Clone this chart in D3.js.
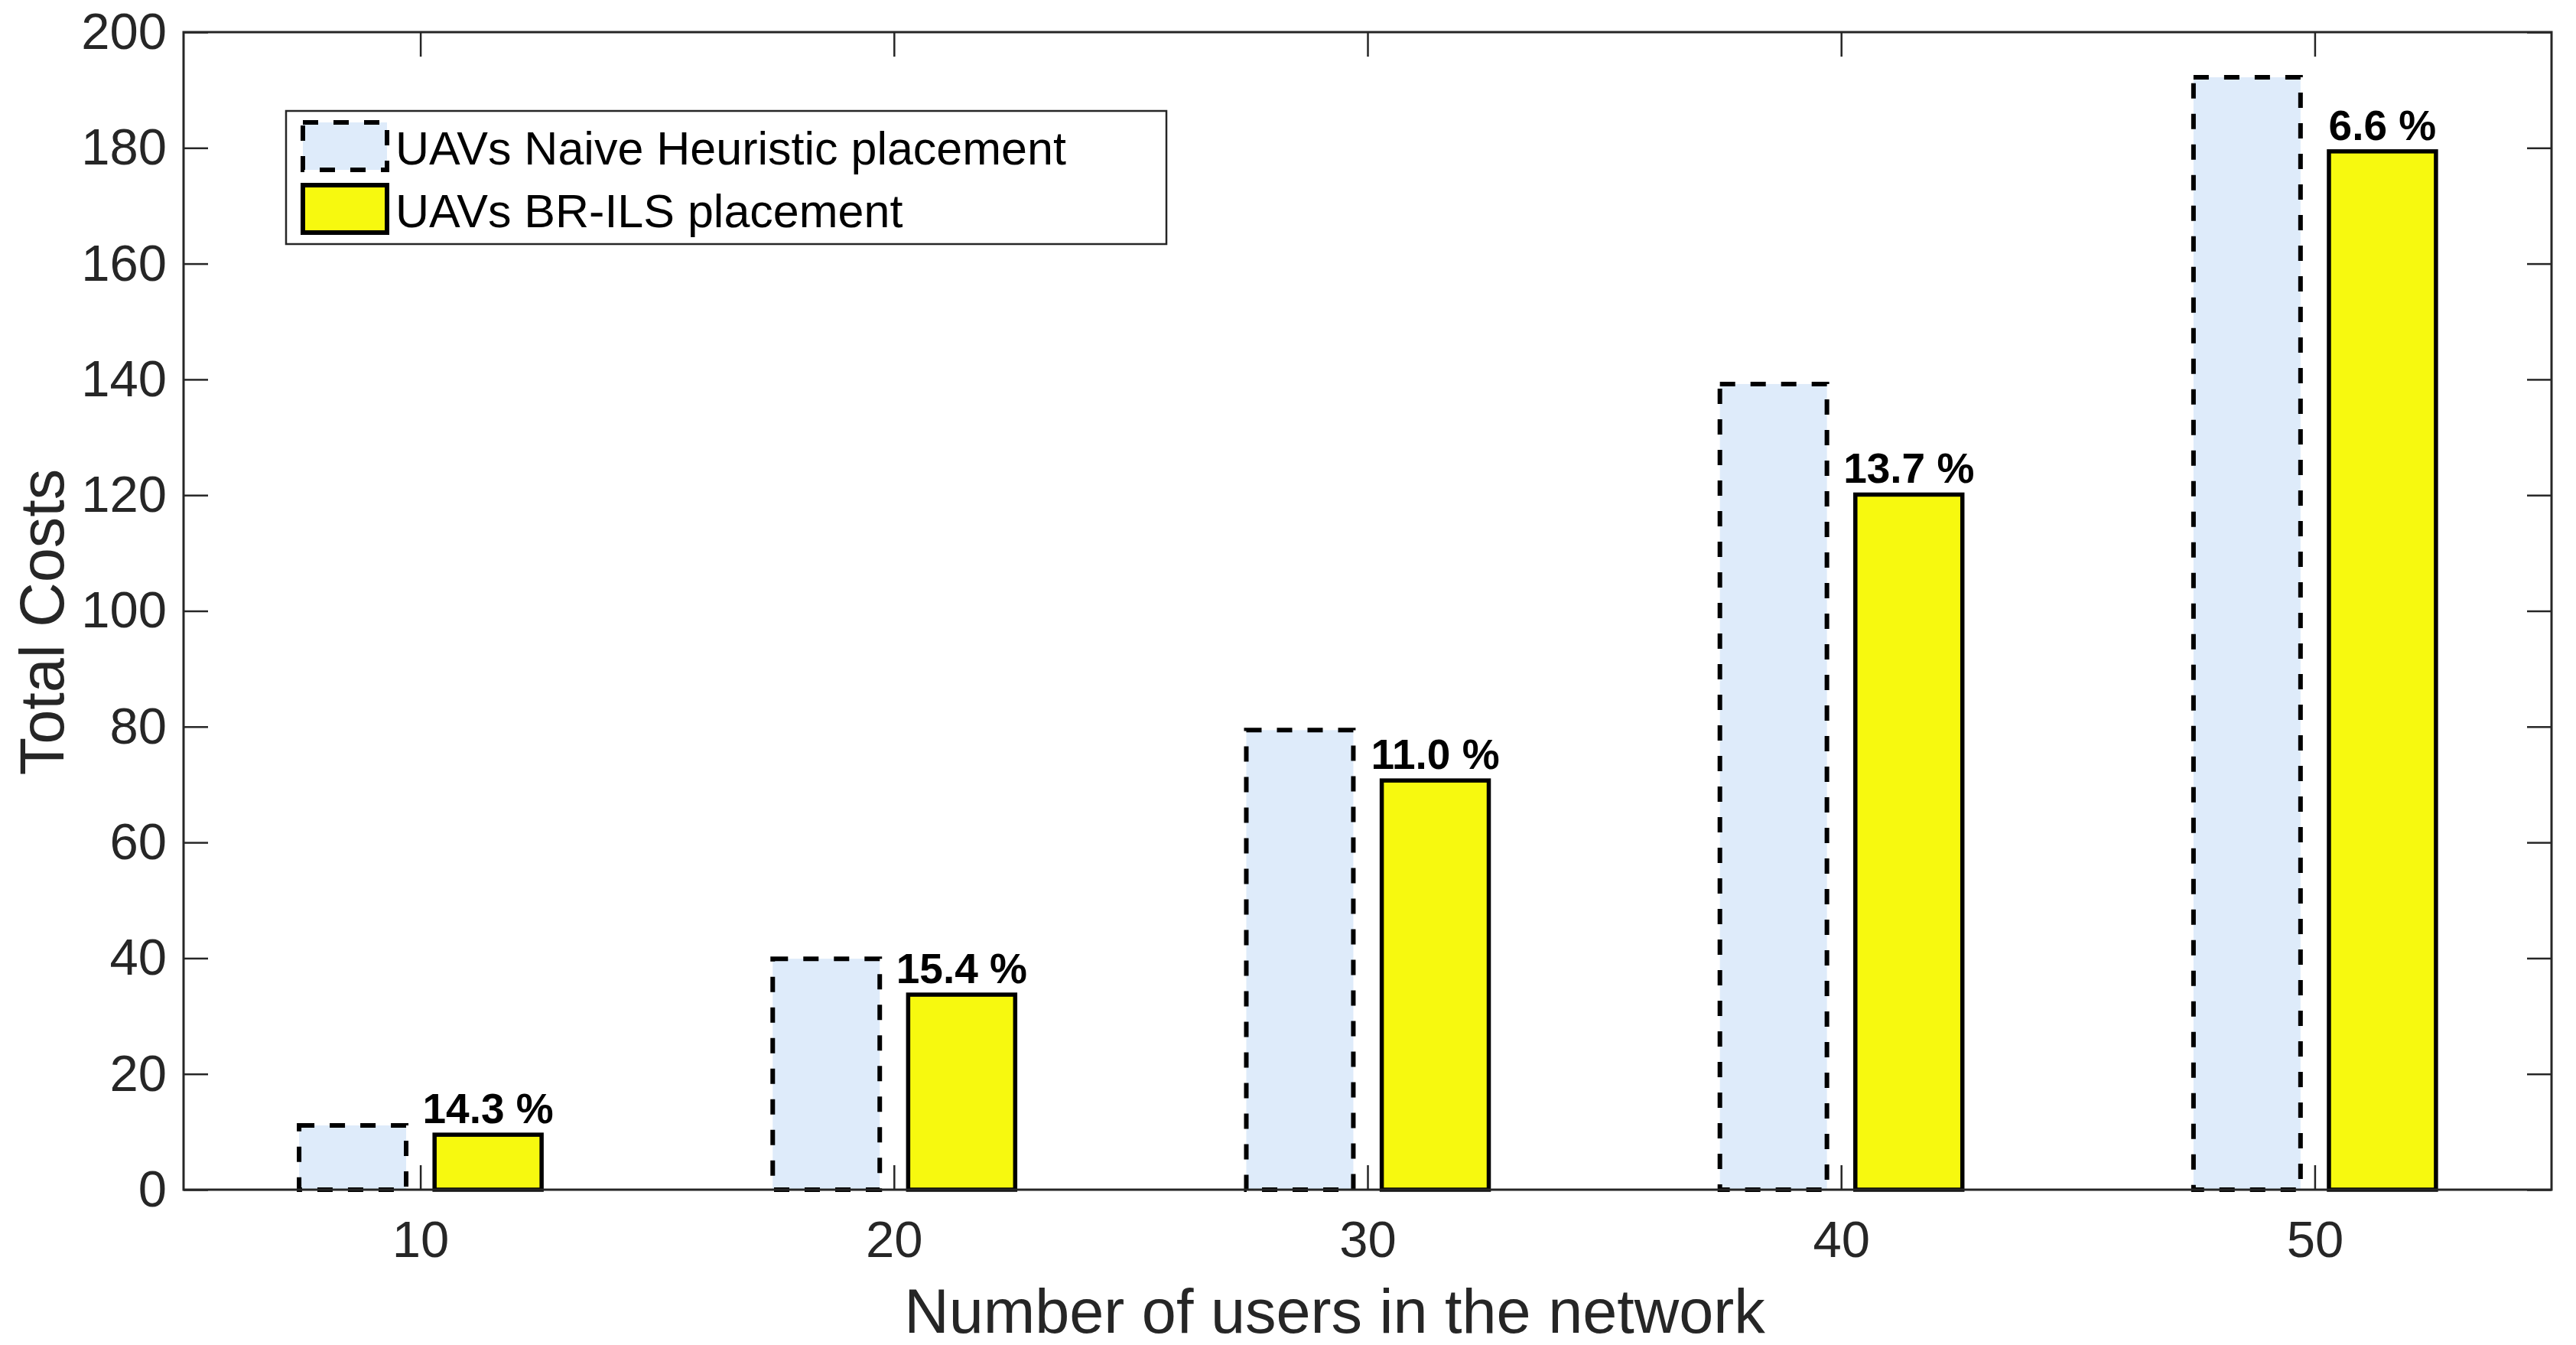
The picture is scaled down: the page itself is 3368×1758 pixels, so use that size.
<!DOCTYPE html>
<html>
<head>
<meta charset="utf-8">
<script src="https://cdn.jsdelivr.net/npm/d3@7"></script>
<style>
  body { margin: 0; background: #fff; }
  svg { display: block; font-family: "Liberation Sans", Arial, Helvetica, sans-serif; }
</style>
</head>
<body>
<svg id="chart"></svg>
<script>
const width = 3368;
const height = 1758;

// data
const users = [10, 20, 30, 40, 50];
const naiveCosts = [11.1, 39.9, 79.4, 139.2, 192.2];
const brilsCosts = [9.5, 33.7, 70.7, 120.1, 179.4];
const gainLabels = ["14.3 %", "15.4 %", "11.0 %", "13.7 %", "6.6 %"];
const yTicks = [0, 20, 40, 60, 80, 100, 120, 140, 160, 180, 200];
const seriesNames = ["UAVs Naive Heuristic placement", "UAVs BR-ILS placement"];

const blueFill = "#deebfa";
const yellowFill = "#f7f90f";
const axisColor = "#262626";

const plotLeft = 240, plotRight = 3336, plotTop = 42, plotBottom = 1555;

let svg = d3.select("#chart")
			.attr("width", width)
			.attr("height", height);

svg.append("rect").attr("width", width).attr("height", height).attr("fill", "#fff");

let x = d3.scaleLinear().domain([5, 55]).range([plotLeft, plotRight]);
let y = d3.scaleLinear().domain([0, 200]).range([plotBottom, plotTop]);

let barOffset = 1.43;   // in x units
let barWidth = 2.26;

/* bars */
let groups = svg.selectAll("g.group")
				.data(users.map((u, i) => ({u, naive: naiveCosts[i], brils: brilsCosts[i], label: gainLabels[i]})))
				.enter()
				.append("g")
				.attr("class", "group");

groups.append("rect")
	.attr("x", d => x(d.u - barOffset - barWidth / 2))
	.attr("width", d => x(d.u - barOffset + barWidth / 2) - x(d.u - barOffset - barWidth / 2))
	.attr("y", d => y(d.naive))
	.attr("height", d => y(0) - y(d.naive))
	.attr("fill", blueFill)
	.attr("stroke", "#000")
	.attr("stroke-width", 6)
	.attr("stroke-dasharray", "20,20");

groups.append("rect")
	.attr("x", d => x(d.u + barOffset - barWidth / 2))
	.attr("width", d => x(d.u + barOffset + barWidth / 2) - x(d.u + barOffset - barWidth / 2))
	.attr("y", d => y(d.brils))
	.attr("height", d => y(0) - y(d.brils))
	.attr("fill", yellowFill)
	.attr("stroke", "#000")
	.attr("stroke-width", 5.5);

groups.append("text")
	.attr("x", d => x(d.u + barOffset))
	.attr("y", d => y(d.brils) - 15)
	.attr("text-anchor", "middle")
	.attr("font-size", 55)
	.attr("font-weight", "bold")
	.attr("fill", "#000")
	.text(d => d.label);

/* axes */
let tickLen = 32;

svg.append("g")
	.attr("transform", `translate(0,${plotBottom})`)
	.call(d3.axisBottom(x).tickValues(users).tickSizeInner(-tickLen).tickSizeOuter(0).tickPadding(40));

svg.append("g")
	.attr("transform", `translate(0,${plotTop})`)
	.call(d3.axisTop(x).tickValues(users).tickSizeInner(-tickLen).tickSizeOuter(0).tickFormat(""));

svg.append("g")
	.attr("transform", `translate(${plotLeft},0)`)
	.call(d3.axisLeft(y).tickValues(yTicks).tickSizeInner(-tickLen).tickSizeOuter(0).tickPadding(22));

svg.append("g")
	.attr("transform", `translate(${plotRight},0)`)
	.call(d3.axisRight(y).tickValues(yTicks).tickSizeInner(-tickLen).tickSizeOuter(0).tickFormat(""));

svg.selectAll(".domain").remove();
svg.selectAll(".tick line").attr("stroke", axisColor).attr("stroke-width", 2.5);
svg.selectAll(".tick text")
	.attr("font-size", 67)
	.attr("fill", axisColor)
	.attr("font-family", "'Liberation Sans', Arial, Helvetica, sans-serif");

svg.append("rect")
	.attr("x", plotLeft)
	.attr("y", plotTop)
	.attr("width", plotRight - plotLeft)
	.attr("height", plotBottom - plotTop)
	.attr("fill", "none")
	.attr("stroke", axisColor)
	.attr("stroke-width", 3);

/* axis titles */
svg.append("text")
	.attr("x", 1745)
	.attr("y", 1742)
	.attr("text-anchor", "middle")
	.attr("font-size", 81)
	.attr("fill", axisColor)
	.text("Number of users in the network");

svg.append("text")
	.attr("transform", `translate(83,813) rotate(-90)`)
	.attr("text-anchor", "middle")
	.attr("font-size", 81)
	.attr("fill", axisColor)
	.text("Total Costs");

/* legend */
let legend = svg.append("g");

legend.append("rect")
	.attr("x", 374)
	.attr("y", 145)
	.attr("width", 1525 - 374)
	.attr("height", 319 - 145)
	.attr("fill", "#fff")
	.attr("stroke", axisColor)
	.attr("stroke-width", 2.5);

let items = legend.selectAll("g.item")
	.data(seriesNames)
	.enter()
	.append("g")
	.attr("class", "item")
	.attr("transform", (d, i) => `translate(0,${i * 82})`);

items.append("rect")
	.attr("x", 396)
	.attr("y", 160)
	.attr("width", 110)
	.attr("height", 62)
	.attr("fill", (d, i) => i === 0 ? blueFill : yellowFill)
	.attr("stroke", "#000")
	.attr("stroke-width", 6)
	.attr("stroke-dasharray", (d, i) => i === 0 ? "20,20" : null);

items.append("text")
	.attr("x", 517)
	.attr("y", 215)
	.attr("font-size", 61)
	.attr("fill", "#000")
	.text(d => d);
</script>
</body>
</html>
